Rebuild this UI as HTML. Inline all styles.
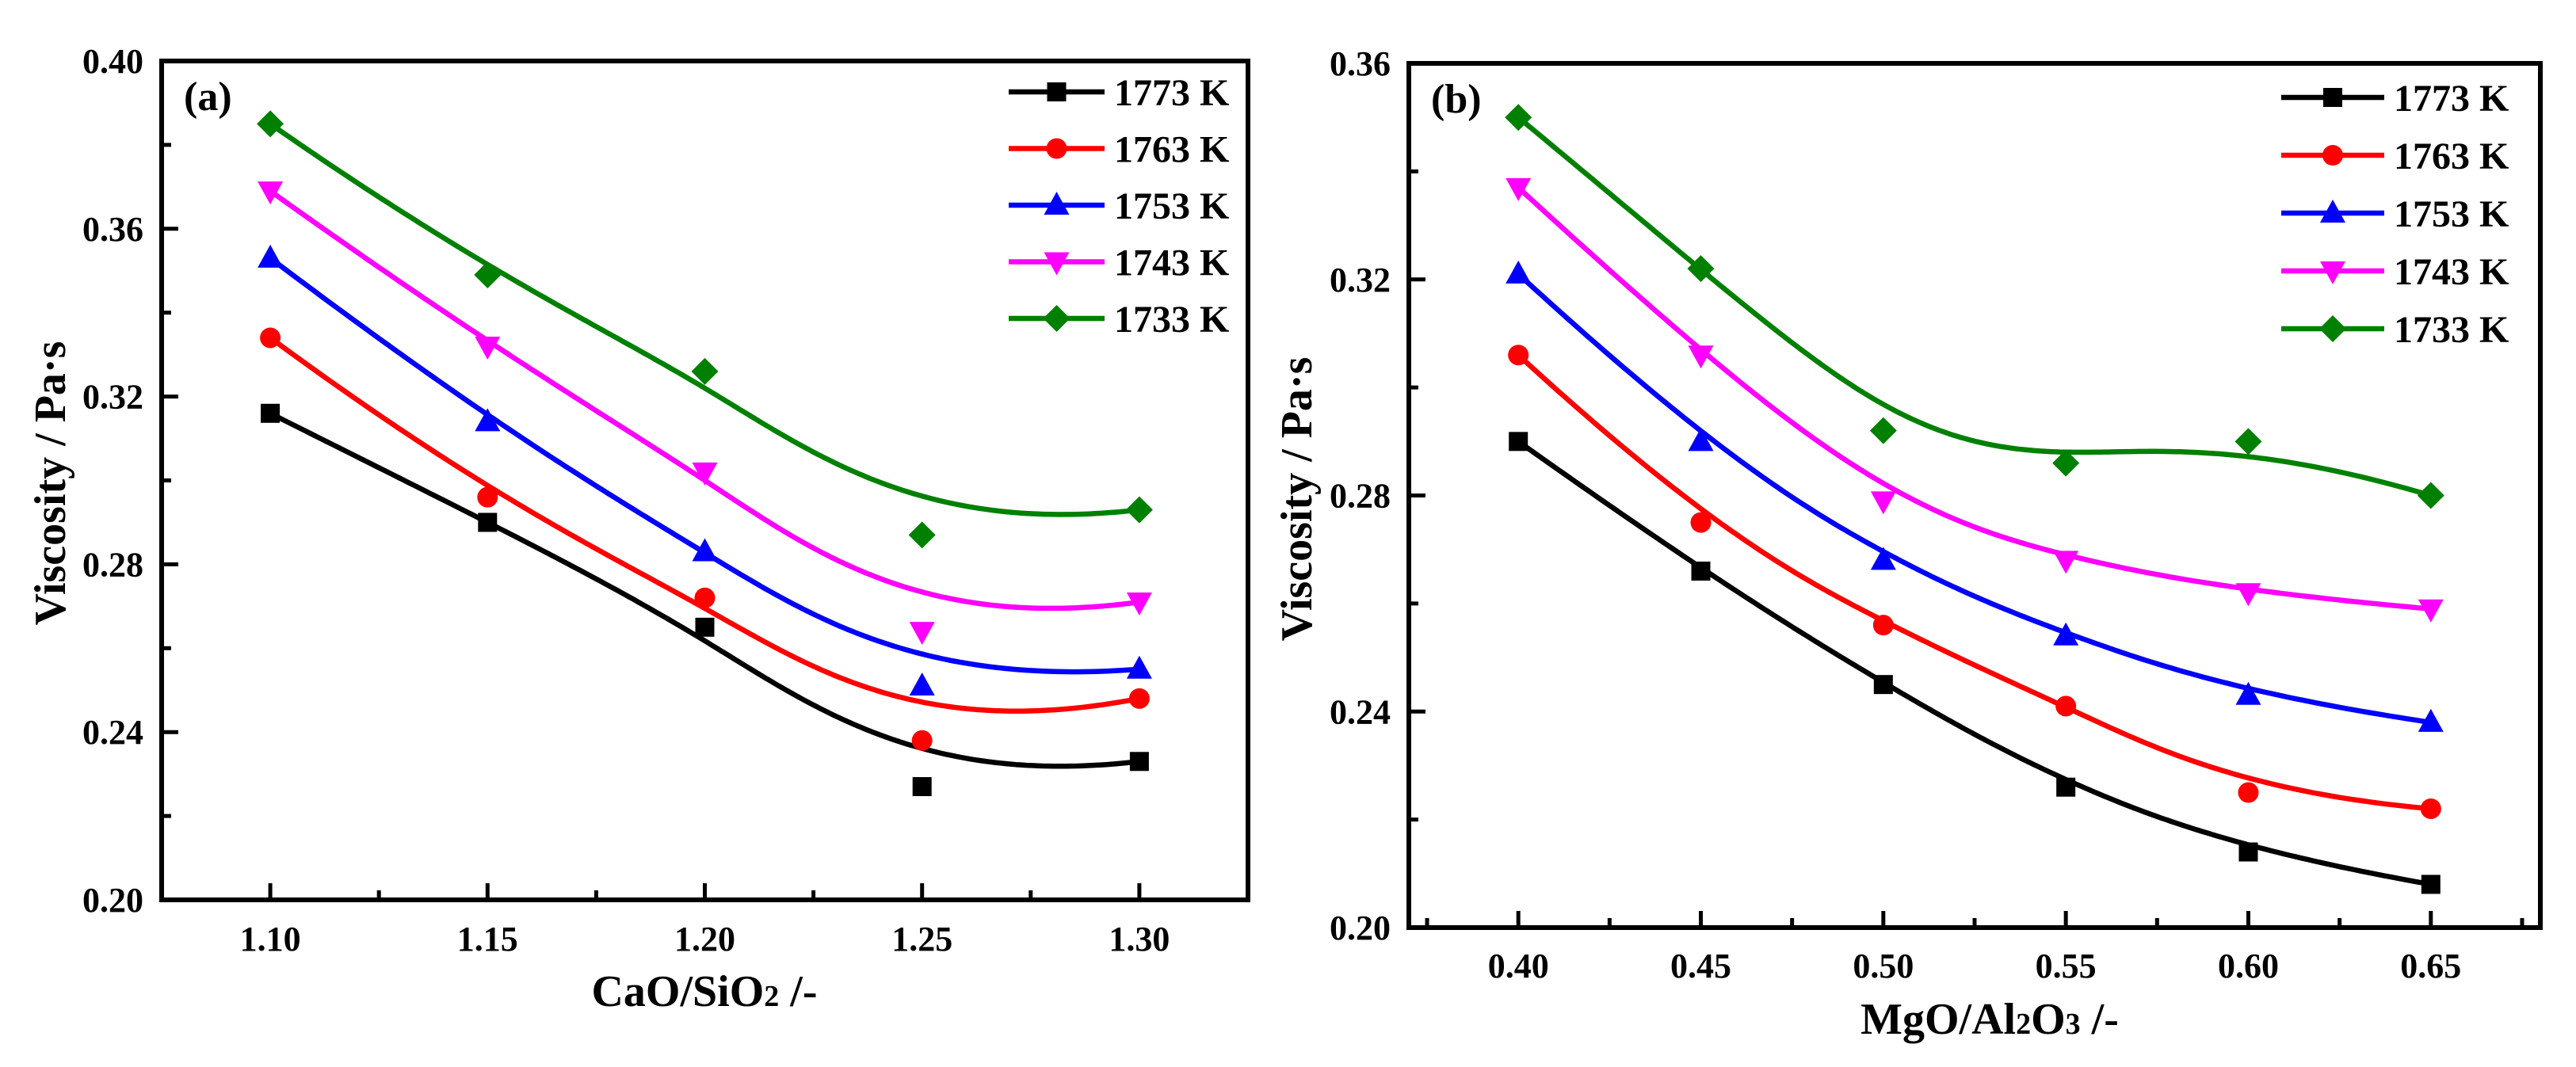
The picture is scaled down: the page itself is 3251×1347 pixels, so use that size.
<!DOCTYPE html>
<html><head><meta charset="utf-8">
<style>
html,body{margin:0;padding:0;background:#fff;}
svg{display:block;font-family:"Liberation Serif",serif;font-weight:bold;}
</style></head>
<body>
<svg id="fig" width="3251" height="1347" viewBox="0 0 3251 1347" xmlns="http://www.w3.org/2000/svg"></svg>
<script>
// ---- Panel (a) data ----
const catsA = [1.10, 1.15, 1.20, 1.25, 1.30];
const a1773 = [0.316, 0.290, 0.265, 0.227, 0.233];
const a1763 = [0.334, 0.296, 0.272, 0.238, 0.248];
const a1753 = [0.353, 0.314, 0.283, 0.251, 0.255];
const a1743 = [0.369, 0.332, 0.302, 0.264, 0.271];
const a1733 = [0.385, 0.349, 0.326, 0.287, 0.293];
const xTicksA = ["1.10", "1.15", "1.20", "1.25", "1.30"];
const yTicksA = ["0.20", "0.24", "0.28", "0.32", "0.36", "0.40"];
// ---- Panel (b) data ----
const catsB = [0.40, 0.45, 0.50, 0.55, 0.60, 0.65];
const b1773 = [0.290, 0.266, 0.245, 0.226, 0.214, 0.208];
const b1763 = [0.306, 0.275, 0.256, 0.241, 0.225, 0.222];
const b1753 = [0.321, 0.290, 0.268, 0.254, 0.243, 0.238];
const b1743 = [0.337, 0.306, 0.279, 0.268, 0.262, 0.259];
const b1733 = [0.350, 0.322, 0.292, 0.286, 0.290, 0.280];
const xTicksB = ["0.40", "0.45", "0.50", "0.55", "0.60", "0.65"];
const yTicksB = ["0.20", "0.24", "0.28", "0.32", "0.36"];
const seriesNames = ["1773 K", "1763 K", "1753 K", "1743 K", "1733 K"];

const NS = "http://www.w3.org/2000/svg";
const svg = document.getElementById('fig');
function mk(tag, attrs, parent) {
  const e = document.createElementNS(NS, tag);
  for (const k in attrs) e.setAttribute(k, attrs[k]);
  (parent || svg).appendChild(e);
  return e;
}
const colors = ["#000000", "#ff0000", "#0000ff", "#ff00ff", "#008000"];
const shapes = ["square", "circle", "up", "down", "diamond"];

function marker(shape, x, y, color, g) {
  let e;
  if (shape === "square") e = mk('rect', {x: x-12, y: y-12, width: 24, height: 24, fill: color}, g);
  else if (shape === "circle") e = mk('circle', {cx: x, cy: y, r: 13, fill: color}, g);
  else if (shape === "up") e = mk('polygon', {points: `${x},${y-17} ${x+16},${y+12} ${x-16},${y+12}`, fill: color}, g);
  else if (shape === "down") e = mk('polygon', {points: `${x},${y+17} ${x+16},${y-12} ${x-16},${y-12}`, fill: color}, g);
  else e = mk('polygon', {points: `${x},${y-17} ${x+17},${y} ${x},${y+17} ${x-17},${y}`, fill: color}, g);
  return e;
}

function bspline(pts) {
  const n = pts.length, p = 3;
  const knots = [];
  for (let i = 0; i <= p; i++) knots.push(0);
  for (let i = 1; i < n - p; i++) knots.push(i);
  for (let i = 0; i <= p; i++) knots.push(n - p);
  const out = [];
  const tmax = n - p, steps = 200;
  for (let s = 0; s <= steps; s++) {
    let t = tmax * s / steps;
    if (t >= tmax) t = tmax - 1e-9;
    let k = p;
    while (k < n - 1 && knots[k + 1] <= t) k++;
    const d = [];
    for (let j = 0; j <= p; j++) d.push([pts[j + k - p][0], pts[j + k - p][1]]);
    for (let r = 1; r <= p; r++) {
      for (let j = p; j >= r; j--) {
        const i = j + k - p;
        const al = (t - knots[i]) / (knots[i + 1 + p - r] - knots[i]);
        d[j] = [(1 - al) * d[j-1][0] + al * d[j][0], (1 - al) * d[j-1][1] + al * d[j][1]];
      }
    }
    out.push(d[p]);
  }
  return out;
}

function panel(cfg) {
  const g = mk('g', {});
  
  
  const {L, R, T, B, xmin, xmax, ymin, ymax} = cfg;
  const sx = v => L + (v - xmin) / (xmax - xmin) * (R - L);
  const sy = v => B - (v - ymin) / (ymax - ymin) * (B - T);
  cfg.series.forEach((vals, si) => {
    const sg = mk('g', {}, g);
    
    
    const pts = cfg.cats.map((c, i) => [sx(c), sy(vals[i])]);
    const sp = bspline(pts);
    const path = mk('path', {d: 'M' + sp.map(q => q[0].toFixed(1) + ',' + q[1].toFixed(1)).join(' L'), fill: 'none', stroke: colors[si], 'stroke-width': 6.5, 'stroke-linejoin': 'round'}, sg);
    
    
    pts.forEach(q => {
      const m = marker(shapes[si], q[0], q[1], colors[si], sg);
      
      
    });
  });
  const fr = mk('rect', {x: L, y: T, width: R - L, height: B - T, fill: 'none', stroke: '#000', 'stroke-width': 6}, g);
  
  
  const step = (cfg.cats[1] - cfg.cats[0]);
  cfg.xTicks.forEach((lab) => {
    const v = parseFloat(lab);
    const x = sx(v);
    mk('line', {x1: x, y1: B, x2: x, y2: B - 21, stroke: '#000', 'stroke-width': 5}, g);
    const t = mk('text', {x: x, y: cfg.xlabY, 'font-size': 44, 'text-anchor': 'middle'}, g);
    t.textContent = lab;
    
    
  });
  for (let v = cfg.cats[0] - step / 2; v < xmax; v += step) {
    if (v <= xmin) continue;
    const x = sx(v);
    mk('line', {x1: x, y1: B, x2: x, y2: B - 12, stroke: '#000', 'stroke-width': 5}, g);
  }
  cfg.yTicks.forEach(lab => {
    const v = parseFloat(lab);
    const y = sy(v);
    mk('line', {x1: L, y1: y, x2: L + 21, y2: y, stroke: '#000', 'stroke-width': 5}, g);
    const t = mk('text', {x: L - 23, y: y + 15, 'font-size': 44, 'text-anchor': 'end'}, g);
    t.textContent = lab;
    
    
    const mv = v + 0.02;
    if (mv < ymax) {
      const my = sy(mv);
      mk('line', {x1: L, y1: my, x2: L + 12, y2: my, stroke: '#000', 'stroke-width': 5}, g);
    }
  });
  const yt = mk('text', {x: 0, y: 0, 'font-size': 56, 'text-anchor': 'middle', transform: `translate(${cfg.ytX},${cfg.ytY}) rotate(-90)`}, g);
  yt.textContent = 'Viscosity / Pa·s';
  
  
  const xt = mk('text', {x: cfg.xtX, y: cfg.xtY, 'font-size': 56, 'text-anchor': 'middle'}, g);
  
  
  cfg.xTitle.forEach(part => {
    const ts = mk('tspan', part[1] ? {'font-size': 38} : {}, xt);
    ts.textContent = part[0];
  });
  const pl = mk('text', {x: L + 28, y: T + 62, 'font-size': 52}, g);
  pl.textContent = cfg.label;
  
  
  const lg = mk('g', {}, g);
  
  
  seriesNames.forEach((nm, i) => {
    const y = cfg.legY + i * cfg.legDy;
    const eg = mk('g', {}, lg);
    
    
    mk('line', {x1: cfg.legX1, y1: y, x2: cfg.legX2, y2: y, stroke: colors[i], 'stroke-width': 6.5}, eg);
    marker(shapes[i], (cfg.legX1 + cfg.legX2) / 2, y, colors[i], eg);
    const t = mk('text', {x: cfg.legX2 + 12, y: y + 17, 'font-size': 48}, eg);
    t.textContent = nm;
  });
}

panel({name: 'panel-a', L: 204, R: 1575, T: 77, B: 1136, xmin: 1.075, xmax: 1.325, ymin: 0.20, ymax: 0.40,
  cats: catsA, series: [a1773, a1763, a1753, a1743, a1733], xTicks: xTicksA, yTicks: yTicksA,
  xlabY: 1200, ytX: 82, ytY: 610, xtX: 889, xtY: 1270,
  xTitle: [["CaO/SiO"], ["2", true], [" /-"]], label: '(a)',
  legX1: 1273, legX2: 1394, legY: 116, legDy: 71.5});
panel({name: 'panel-b', L: 1778, R: 3206, T: 80, B: 1171, xmin: 0.37, xmax: 0.68, ymin: 0.20, ymax: 0.36,
  cats: catsB, series: [b1773, b1763, b1753, b1743, b1733], xTicks: xTicksB, yTicks: yTicksB,
  xlabY: 1234, ytX: 1655, ytY: 630, xtX: 2511, xtY: 1305,
  xTitle: [["MgO/Al"], ["2", true], ["O"], ["3", true], [" /-"]], label: '(b)',
  legX1: 2879, legX2: 3009, legY: 123, legDy: 73});
</script>
</body></html>
